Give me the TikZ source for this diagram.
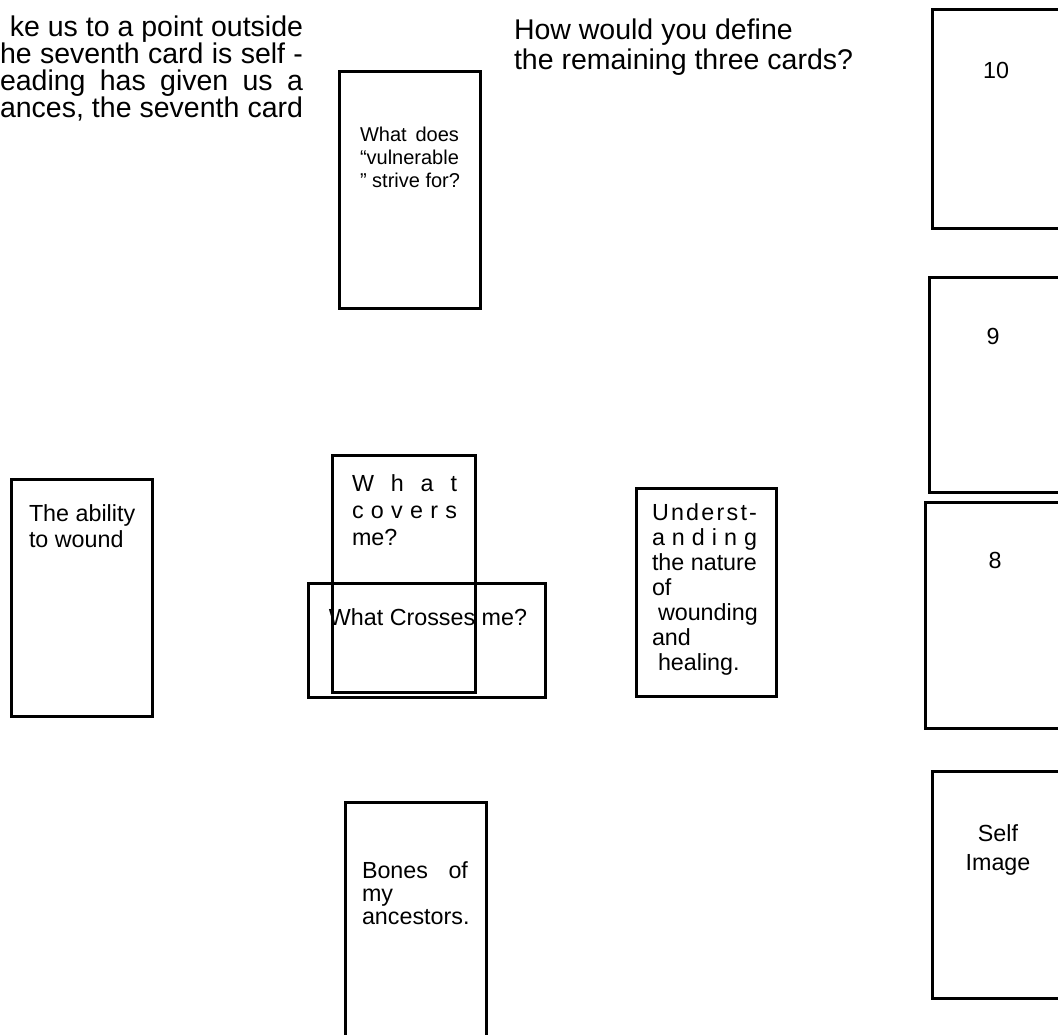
\documentclass[tikz,border=0pt]{standalone}
\usepackage{fontspec}
\setmainfont{Liberation Sans}
\begin{document}
\begin{tikzpicture}[x=1pt,y=-1pt,
  card/.style={draw=black, line width=3pt, rectangle, inner sep=0pt, outer sep=0pt, anchor=north west},
  txt/.style={inner sep=0pt, outer sep=0pt, anchor=base west, font=\fontsize{23.3}{25}\selectfont},
  ctxt/.style={txt, anchor=base},
  small/.style={txt, font=\fontsize{20}{23}\selectfont},
  hdr/.style={inner sep=0pt, outer sep=0pt, anchor=base west, font=\fontsize{28.5}{27}\selectfont}]
\useasboundingbox (0,0) rectangle (1058,1034);
\clip (0,0) rectangle (1058,1034);

% header texts
\node[hdr, anchor=base east] (h1) at (303,36) {ke us to a point outside};
\node[hdr] (h2) at (0,63) {\hbox to 303pt{he\hfil seventh\hfil card\hfil is\hfil self\hfil -}};
\node[hdr] (h3) at (0,90) {\hbox to 303pt{eading\hfil has\hfil given\hfil us\hfil a}};
\node[hdr] (h4) at (0,117) {\hbox to 303pt{ances,\hfil the\hfil seventh\hfil card}};
\node[hdr] (q1) at (514,39) {How would you define};
\node[hdr] (q2) at (514,69) {the remaining three cards?};

% cards
\node[card, minimum width=141pt, minimum height=237pt] (wd) at (339,71) {};
\node[card, minimum width=141pt, minimum height=237pt] (ab) at (11,479) {};
\node[card, minimum width=237pt, minimum height=114pt] (cr) at (308,583) {};
\node[card, minimum width=143pt, minimum height=237pt] (cv) at (332,455) {};
\node[card, minimum width=140pt, minimum height=208pt] (un) at (636,488) {};
\node[card, minimum width=141pt, minimum height=260pt] (bo) at (345,802) {};
\node[card, minimum width=140pt, minimum height=219pt] (c10) at (932,9) {};
\node[card, minimum width=140pt, minimum height=215pt] (c9) at (929,277) {};
\node[card, minimum width=140pt, minimum height=226pt] (c8) at (925,502) {};
\node[card, minimum width=140pt, minimum height=227pt] (si) at (932,771) {};

% card texts
\node[small] (wd1) at (360,141) {\hbox to 99pt{What\hfil does}};
\node[small] (wd2) at (360,164) {“vulnerable};
\node[small] (wd3) at (360,187) {” strive for?};

\node[txt] (ab1) at (29,521) {The ability};
\node[txt] (ab2) at (29,547) {to wound};

\node[txt] (cv1) at (352,491) {\hbox to 105pt{W\hfil h\hfil a\hfil t}};
\node[txt] (cv2) at (352,518) {\hbox to 105pt{c\hfil o\hfil v\hfil e\hfil r\hfil s}};
\node[txt] (cv3) at (352,545) {me?};

\node[ctxt] (cr1) at (428,625) {What Crosses me?};

\node[txt] (un1) at (652,520) {\hbox to 105pt{U\hfil n\hfil d\hfil e\hfil r\hfil s\hfil t\hfil -}};
\node[txt] (un2) at (652,545) {\hbox to 105pt{a\hfil n\hfil d\hfil i\hfil n\hfil g}};
\node[txt] (un3) at (652,570) {the nature};
\node[txt] (un4) at (652,595) {of};
\node[txt] (un5) at (652,620) {\hspace{6pt}wounding};
\node[txt] (un6) at (652,645) {and};
\node[txt] (un7) at (652,670) {\hspace{6pt}healing.};

\node[txt] (bo1) at (362,878) {\hbox to 106pt{Bones\hfil of}};
\node[txt] (bo2) at (362,901) {my};
\node[txt] (bo3) at (362,924) {ancestors.};

\node[ctxt] (t10) at (996,78) {10};
\node[ctxt] (t9) at (993,344) {9};
\node[ctxt] (t8) at (995,568) {8};
\node[ctxt] (si1) at (998,841) {Self};
\node[ctxt] (si2) at (998,870) {Image};
\end{tikzpicture}
\end{document}
